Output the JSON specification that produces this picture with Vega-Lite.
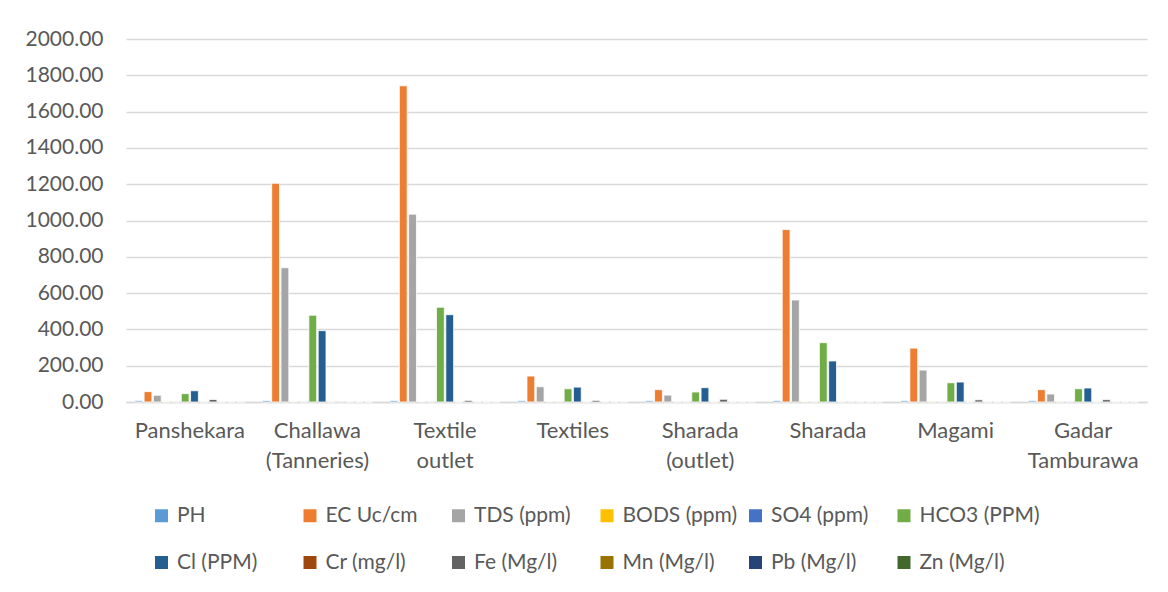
{
  "$schema": "https://vega.github.io/schema/vega-lite/v6.json",
  "width": 1021,
  "height": 363,
  "autosize": {"type": "none"},
  "padding": {"left": 126, "top": 39, "right": 21, "bottom": 190},
  "background": "white",
  "data": {
    "values": [
      {"site": "Panshekara", "param": "PH", "value": 7.1},
      {"site": "Panshekara", "param": "EC Uc/cm", "value": 57},
      {"site": "Panshekara", "param": "TDS (ppm)", "value": 37},
      {"site": "Panshekara", "param": "BODS (ppm)", "value": 1.5},
      {"site": "Panshekara", "param": "SO4 (ppm)", "value": 1.0},
      {"site": "Panshekara", "param": "HCO3 (PPM)", "value": 46},
      {"site": "Panshekara", "param": "Cl (PPM)", "value": 62},
      {"site": "Panshekara", "param": "Cr (mg/l)", "value": 0.1},
      {"site": "Panshekara", "param": "Fe (Mg/l)", "value": 14},
      {"site": "Panshekara", "param": "Mn (Mg/l)", "value": 0.1},
      {"site": "Panshekara", "param": "Pb (Mg/l)", "value": 0.05},
      {"site": "Panshekara", "param": "Zn (Mg/l)", "value": 0.2},

      {"site": "Challawa (Tanneries)", "param": "PH", "value": 7.4},
      {"site": "Challawa (Tanneries)", "param": "EC Uc/cm", "value": 1205},
      {"site": "Challawa (Tanneries)", "param": "TDS (ppm)", "value": 740},
      {"site": "Challawa (Tanneries)", "param": "BODS (ppm)", "value": 2.0},
      {"site": "Challawa (Tanneries)", "param": "SO4 (ppm)", "value": 1.2},
      {"site": "Challawa (Tanneries)", "param": "HCO3 (PPM)", "value": 478},
      {"site": "Challawa (Tanneries)", "param": "Cl (PPM)", "value": 393},
      {"site": "Challawa (Tanneries)", "param": "Cr (mg/l)", "value": 0.2},
      {"site": "Challawa (Tanneries)", "param": "Fe (Mg/l)", "value": 3},
      {"site": "Challawa (Tanneries)", "param": "Mn (Mg/l)", "value": 0.1},
      {"site": "Challawa (Tanneries)", "param": "Pb (Mg/l)", "value": 0.05},
      {"site": "Challawa (Tanneries)", "param": "Zn (Mg/l)", "value": 0.2},

      {"site": "Textile outlet", "param": "PH", "value": 7.6},
      {"site": "Textile outlet", "param": "EC Uc/cm", "value": 1742},
      {"site": "Textile outlet", "param": "TDS (ppm)", "value": 1035},
      {"site": "Textile outlet", "param": "BODS (ppm)", "value": 2.2},
      {"site": "Textile outlet", "param": "SO4 (ppm)", "value": 1.3},
      {"site": "Textile outlet", "param": "HCO3 (PPM)", "value": 522},
      {"site": "Textile outlet", "param": "Cl (PPM)", "value": 481},
      {"site": "Textile outlet", "param": "Cr (mg/l)", "value": 0.1},
      {"site": "Textile outlet", "param": "Fe (Mg/l)", "value": 9},
      {"site": "Textile outlet", "param": "Mn (Mg/l)", "value": 0.1},
      {"site": "Textile outlet", "param": "Pb (Mg/l)", "value": 0.05},
      {"site": "Textile outlet", "param": "Zn (Mg/l)", "value": 0.2},

      {"site": "Textiles", "param": "PH", "value": 7.3},
      {"site": "Textiles", "param": "EC Uc/cm", "value": 143},
      {"site": "Textiles", "param": "TDS (ppm)", "value": 84},
      {"site": "Textiles", "param": "BODS (ppm)", "value": 1.6},
      {"site": "Textiles", "param": "SO4 (ppm)", "value": 1.0},
      {"site": "Textiles", "param": "HCO3 (PPM)", "value": 73},
      {"site": "Textiles", "param": "Cl (PPM)", "value": 82},
      {"site": "Textiles", "param": "Cr (mg/l)", "value": 0.1},
      {"site": "Textiles", "param": "Fe (Mg/l)", "value": 9},
      {"site": "Textiles", "param": "Mn (Mg/l)", "value": 0.1},
      {"site": "Textiles", "param": "Pb (Mg/l)", "value": 0.05},
      {"site": "Textiles", "param": "Zn (Mg/l)", "value": 0.2},

      {"site": "Sharada (outlet)", "param": "PH", "value": 7.2},
      {"site": "Sharada (outlet)", "param": "EC Uc/cm", "value": 68},
      {"site": "Sharada (outlet)", "param": "TDS (ppm)", "value": 38},
      {"site": "Sharada (outlet)", "param": "BODS (ppm)", "value": 1.4},
      {"site": "Sharada (outlet)", "param": "SO4 (ppm)", "value": 0.9},
      {"site": "Sharada (outlet)", "param": "HCO3 (PPM)", "value": 55},
      {"site": "Sharada (outlet)", "param": "Cl (PPM)", "value": 79},
      {"site": "Sharada (outlet)", "param": "Cr (mg/l)", "value": 0.1},
      {"site": "Sharada (outlet)", "param": "Fe (Mg/l)", "value": 15},
      {"site": "Sharada (outlet)", "param": "Mn (Mg/l)", "value": 0.1},
      {"site": "Sharada (outlet)", "param": "Pb (Mg/l)", "value": 0.05},
      {"site": "Sharada (outlet)", "param": "Zn (Mg/l)", "value": 0.2},

      {"site": "Sharada", "param": "PH", "value": 7.5},
      {"site": "Sharada", "param": "EC Uc/cm", "value": 950},
      {"site": "Sharada", "param": "TDS (ppm)", "value": 562},
      {"site": "Sharada", "param": "BODS (ppm)", "value": 2.0},
      {"site": "Sharada", "param": "SO4 (ppm)", "value": 1.1},
      {"site": "Sharada", "param": "HCO3 (PPM)", "value": 327},
      {"site": "Sharada", "param": "Cl (PPM)", "value": 226},
      {"site": "Sharada", "param": "Cr (mg/l)", "value": 0.1},
      {"site": "Sharada", "param": "Fe (Mg/l)", "value": 1},
      {"site": "Sharada", "param": "Mn (Mg/l)", "value": 0.1},
      {"site": "Sharada", "param": "Pb (Mg/l)", "value": 0.05},
      {"site": "Sharada", "param": "Zn (Mg/l)", "value": 0.2},

      {"site": "Magami", "param": "PH", "value": 7.3},
      {"site": "Magami", "param": "EC Uc/cm", "value": 297},
      {"site": "Magami", "param": "TDS (ppm)", "value": 176},
      {"site": "Magami", "param": "BODS (ppm)", "value": 1.7},
      {"site": "Magami", "param": "SO4 (ppm)", "value": 1.0},
      {"site": "Magami", "param": "HCO3 (PPM)", "value": 106},
      {"site": "Magami", "param": "Cl (PPM)", "value": 110},
      {"site": "Magami", "param": "Cr (mg/l)", "value": 0.1},
      {"site": "Magami", "param": "Fe (Mg/l)", "value": 12},
      {"site": "Magami", "param": "Mn (Mg/l)", "value": 0.1},
      {"site": "Magami", "param": "Pb (Mg/l)", "value": 0.05},
      {"site": "Magami", "param": "Zn (Mg/l)", "value": 0.2},

      {"site": "Gadar Tamburawa", "param": "PH", "value": 7.2},
      {"site": "Gadar Tamburawa", "param": "EC Uc/cm", "value": 68},
      {"site": "Gadar Tamburawa", "param": "TDS (ppm)", "value": 44},
      {"site": "Gadar Tamburawa", "param": "BODS (ppm)", "value": 1.5},
      {"site": "Gadar Tamburawa", "param": "SO4 (ppm)", "value": 1.0},
      {"site": "Gadar Tamburawa", "param": "HCO3 (PPM)", "value": 73},
      {"site": "Gadar Tamburawa", "param": "Cl (PPM)", "value": 77},
      {"site": "Gadar Tamburawa", "param": "Cr (mg/l)", "value": 0.1},
      {"site": "Gadar Tamburawa", "param": "Fe (Mg/l)", "value": 13},
      {"site": "Gadar Tamburawa", "param": "Mn (Mg/l)", "value": 0.1},
      {"site": "Gadar Tamburawa", "param": "Pb (Mg/l)", "value": 0.05},
      {"site": "Gadar Tamburawa", "param": "Zn (Mg/l)", "value": 0.2}
    ]
  },
  "mark": {"type": "bar", "stroke": "white", "strokeWidth": 0.8},
  "encoding": {
    "x": {
      "field": "site",
      "type": "nominal",
      "sort": null,
      "scale": {"paddingInner": 0.138, "paddingOuter": 0.069},
      "axis": {
        "title": null,
        "labelAngle": 0,
        "labelExpr": "split(datum.label, ' ')",
        "labelFontSize": 22,
        "labelFont": "Lato",
        "labelColor": "#595959",
        "labelPadding": 18,
        "labelLineHeight": 30,
        "labelBaseline": "top",
        "ticks": false,
        "domainColor": "#d9d9d9",
        "domainWidth": 1.5
      }
    },
    "xOffset": {
      "field": "param",
      "type": "nominal",
      "sort": null,
      "scale": {"paddingInner": 0.16}
    },
    "y": {
      "field": "value",
      "type": "quantitative",
      "scale": {"domain": [0, 2000], "nice": false},
      "axis": {
        "title": null,
        "values": [0, 200, 400, 600, 800, 1000, 1200, 1400, 1600, 1800, 2000],
        "format": ".2f",
        "labelFontSize": 21,
        "labelFont": "Lato",
        "labelColor": "#595959",
        "labelPadding": 23,
        "ticks": false,
        "domain": false,
        "gridColor": "#d9d9d9",
        "gridWidth": 1.5
      }
    },
    "color": {
      "field": "param",
      "type": "nominal",
      "sort": null,
      "scale": {
        "domain": ["PH", "EC Uc/cm", "TDS (ppm)", "BODS (ppm)", "SO4 (ppm)", "HCO3 (PPM)", "Cl (PPM)", "Cr (mg/l)", "Fe (Mg/l)", "Mn (Mg/l)", "Pb (Mg/l)", "Zn (Mg/l)"],
        "range": ["#5B9BD5", "#ED7D31", "#A5A5A5", "#FFC000", "#4472C4", "#70AD47", "#255E91", "#9E480E", "#636363", "#997300", "#264478", "#43682B"]
      },
      "legend": {
        "title": null,
        "orient": "none",
        "legendX": 25,
        "legendY": 466,
        "direction": "horizontal",
        "columns": 6,
        "gridAlign": "all",
        "columnPadding": 1.5,
        "rowPadding": 25,
        "padding": 0,
        "symbolType": "square",
        "symbolSize": 169,
        "symbolStrokeWidth": 0,
        "labelOffset": 5,
        "labelFontSize": 21,
        "labelFont": "Lato",
        "labelColor": "#595959",
        "labelLimit": 300
      }
    }
  },
  "config": {"view": {"stroke": null}}
}
